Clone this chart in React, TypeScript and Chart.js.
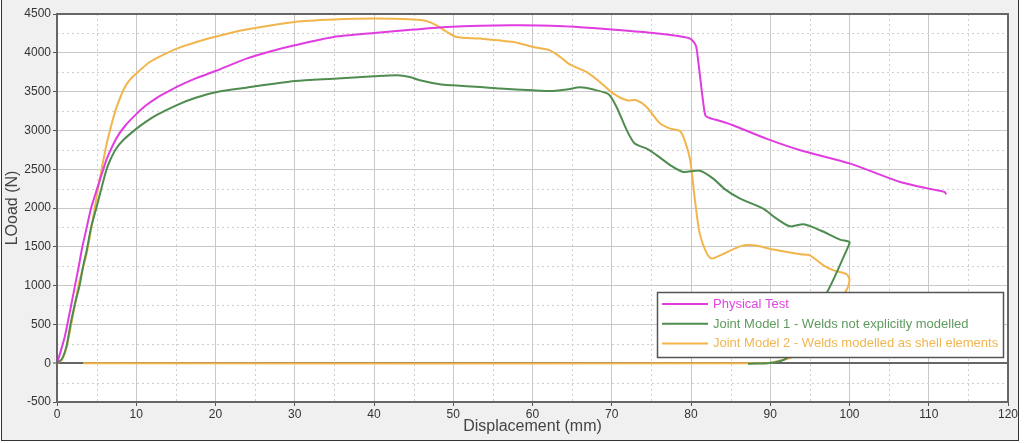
import React, { useEffect, useRef } from "react";
import { Chart, registerables } from "chart.js";

Chart.register(...registerables);

// ---- Data ----
const physicalDisp = [0, 0.4, 1.0, 1.6, 2.27, 2.75, 3.2, 3.75, 4.3, 4.6, 5.0, 5.85, 6.3, 7.5, 8.6, 10, 11.2, 12.6, 14, 15.3, 17.5, 20, 23.9, 27, 30, 34.9, 40, 45, 49.2, 53.4, 58.4, 63.9, 66, 70, 75.2, 78.6, 79.9, 80.6, 80.9, 81.4, 81.8, 82.2, 83.7, 85.3, 89.5, 93.8, 100.1, 106.4, 110.6, 112.0, 112.2];
const physicalLoad = [0, 130, 350, 650, 1000, 1250, 1500, 1750, 2000, 2100, 2230, 2500, 2640, 2900, 3060, 3210, 3320, 3420, 3500, 3570, 3670, 3765, 3925, 4020, 4097, 4204, 4255, 4299, 4333, 4350, 4354, 4342, 4330, 4299, 4255, 4213, 4183, 4097, 3903, 3474, 3195, 3165, 3121, 3066, 2894, 2744, 2572, 2335, 2237, 2206, 2175];

const model1Disp = [0, 0.6, 1.2, 1.7, 2.3, 2.85, 3.3, 3.75, 4.3, 5.0, 5.6, 6.2, 6.7, 7.5, 8.4, 10, 11.2, 12.6, 15.2, 17.5, 20.2, 23.9, 30, 34.9, 40, 42.9, 44.5, 45.8, 48.3, 50, 53.4, 55.9, 60, 62.6, 64.3, 66, 67.7, 69.6, 70.6, 71.9, 72.9, 74.4, 75.7, 77.4, 79, 81.1, 82.8, 84.3, 86.2, 89.1, 90.8, 92.5, 94.2, 96.3, 98.8, 100, 99.9, 97.3, 92.1, 90.5, 87.2];
const model1Load = [0, 50, 220, 500, 780, 1000, 1250, 1455, 1750, 2013, 2250, 2480, 2615, 2770, 2880, 3020, 3110, 3200, 3330, 3420, 3495, 3551, 3637, 3667, 3697, 3710, 3688, 3646, 3594, 3581, 3559, 3539, 3517, 3508, 3526, 3555, 3526, 3465, 3302, 3001, 2830, 2765, 2679, 2550, 2464, 2480, 2379, 2240, 2121, 1992, 1863, 1764, 1790, 1713, 1593, 1562, 1519, 939, 72, 10, -8];

const model2Disp = [0, 0.6, 1.2, 1.7, 2.2, 2.7, 3.2, 3.75, 4.4, 5.0, 5.4, 5.85, 6.25, 6.69, 7.1, 7.53, 8.37, 9.1, 10, 11.7, 13.3, 15.1, 17.6, 20.2, 23.9, 30, 34.9, 40, 45, 46.6, 47.9, 49.2, 50.4, 53.4, 57.6, 60.1, 62.2, 63.5, 64.7, 66.8, 68.5, 70.2, 71.9, 73.1, 74.4, 76.1, 77.4, 78.6, 79.2, 79.9, 80.5, 81.1, 82, 82.6, 83.7, 86.2, 87.9, 90.4, 93.8, 95, 96.7, 98, 99.65, 100, 99.6, 92.9, 91.5, 89.5, 3.3];
const model2Load = [0, 40, 200, 450, 720, 1000, 1200, 1420, 1780, 2142, 2380, 2615, 2820, 3001, 3160, 3302, 3517, 3640, 3732, 3881, 3970, 4054, 4139, 4213, 4299, 4397, 4428, 4441, 4428, 4410, 4354, 4268, 4204, 4183, 4139, 4075, 4032, 3946, 3850, 3753, 3624, 3474, 3388, 3388, 3302, 3088, 3023, 2992, 2872, 2615, 2099, 1670, 1412, 1348, 1390, 1506, 1519, 1464, 1403, 1390, 1261, 1197, 1146, 1068, 939, 89, 40, 0, 0];

const seriesLabels = [
  "Physical Test",
  "Joint Model 1 - Welds not explicitly modelled",
  "Joint Model 2 - Welds modelled as shell elements",
];
const seriesColors = ["#e03ce0", "#4f8c4f", "#f2b54c"];
const legendTextColors = ["#e045e0", "#5e9a5e", "#f0b650"];

const xTickValues = [0, 10, 20, 30, 40, 50, 60, 70, 80, 90, 100, 110, 120];
const yTickValues = [-500, 0, 500, 1000, 1500, 2000, 2500, 3000, 3500, 4000, 4500];

const xTitle = "Displacement (mm)";
const yTitle = "LOoad (N)";

const FONT = '"Liberation Sans", Arial, sans-serif';

function pairs(xs: number[], ys: number[]) {
  return xs.map((x, i) => ({ x, y: ys[i] }));
}

function midpoints(vals: number[]) {
  const out: number[] = [];
  for (let i = 0; i < vals.length - 1; i++) out.push((vals[i] + vals[i + 1]) / 2);
  return out;
}

const plotBgPlugin = {
  id: "plotBg",
  beforeDraw(chart: any) {
    const { ctx, chartArea } = chart;
    ctx.save();
    ctx.fillStyle = "#ffffff";
    ctx.fillRect(chartArea.left, chartArea.top, chartArea.right - chartArea.left, chartArea.bottom - chartArea.top);
    ctx.restore();
  },
};

const minorGridPlugin = {
  id: "minorGrid",
  beforeDatasetsDraw(chart: any) {
    const { ctx, chartArea, scales } = chart;
    ctx.save();
    ctx.strokeStyle = "#cfcfcf";
    ctx.lineWidth = 1;
    ctx.setLineDash([2, 3]);
    midpoints(xTickValues).forEach((v) => {
      const px = Math.round(scales.x.getPixelForValue(v)) + 0.5;
      ctx.beginPath();
      ctx.moveTo(px, chartArea.top);
      ctx.lineTo(px, chartArea.bottom);
      ctx.stroke();
    });
    midpoints(yTickValues).forEach((v) => {
      const py = Math.round(scales.y.getPixelForValue(v)) + 0.5;
      ctx.beginPath();
      ctx.moveTo(chartArea.left, py);
      ctx.lineTo(chartArea.right, py);
      ctx.stroke();
    });
    ctx.restore();
  },
};

const frameLegendPlugin = {
  id: "frameLegend",
  afterDraw(chart: any) {
    const { ctx, chartArea } = chart;
    ctx.save();
    // plot frame
    ctx.strokeStyle = "#666666";
    ctx.lineWidth = 2;
    ctx.strokeRect(chartArea.left, chartArea.top, chartArea.right - chartArea.left, chartArea.bottom - chartArea.top);
    // legend box
    const w = 346;
    const h = 65;
    const x0 = chartArea.right - 5 - w;
    const y0 = chartArea.top + 278;
    ctx.fillStyle = "#ffffff";
    ctx.fillRect(x0, y0, w, h);
    ctx.strokeStyle = "#555555";
    ctx.lineWidth = 1.5;
    ctx.strokeRect(x0 + 0.5, y0 + 0.5, w, h);
    chart.data.datasets.forEach((ds: any, i: number) => {
      const y = y0 + 12 + i * 19.7;
      ctx.strokeStyle = ds.borderColor;
      ctx.lineWidth = 2;
      ctx.beginPath();
      ctx.moveTo(x0 + 5, y);
      ctx.lineTo(x0 + 51, y);
      ctx.stroke();
      ctx.fillStyle = legendTextColors[i];
      ctx.font = `13px ${FONT}`;
      ctx.textBaseline = "middle";
      ctx.textAlign = "left";
      ctx.fillText(ds.label, x0 + 56, y + 0.5);
    });
    ctx.restore();
  },
};

export default function App() {
  const canvasRef = useRef<HTMLCanvasElement | null>(null);

  useEffect(() => {
    document.body.style.margin = "0";
    const canvas = canvasRef.current;
    if (!canvas) return;
    const datasets = [
      { label: seriesLabels[0], data: pairs(physicalDisp, physicalLoad), borderColor: seriesColors[0] },
      { label: seriesLabels[1], data: pairs(model1Disp, model1Load), borderColor: seriesColors[1] },
      { label: seriesLabels[2], data: pairs(model2Disp, model2Load), borderColor: seriesColors[2] },
    ].map((d) => ({
      ...d,
      showLine: true,
      fill: false,
      pointRadius: 0,
      pointHoverRadius: 0,
      borderWidth: 2,
      tension: 0.25,
      backgroundColor: d.borderColor,
    }));

    const chart = new Chart(canvas, {
      type: "scatter",
      data: { datasets },
      options: {
        animation: false,
        responsive: true,
        maintainAspectRatio: false,
        layout: { padding: { top: 14, right: 16, left: 0, bottom: 0 } },
        plugins: {
          legend: { display: false },
          tooltip: { enabled: false },
        },
        scales: {
          x: {
            type: "linear",
            min: xTickValues[0],
            max: xTickValues[xTickValues.length - 1],
            afterBuildTicks: (scale: any) => {
              scale.ticks = xTickValues.map((v) => ({ value: v }));
            },
            afterFit: (scale: any) => {
              scale.height = 41;
            },
            border: { display: false },
            grid: {
              color: "#c8c8c8",
              lineWidth: 1,
              drawTicks: true,
              tickLength: 4,
              tickColor: "#555555",
              tickWidth: 1,
            },
            ticks: {
              color: "#333333",
              font: { family: FONT, size: 12 },
              padding: 1,
              maxRotation: 0,
              callback: (v: any) => String(v),
            },
            title: {
              display: true,
              text: xTitle,
              color: "#444444",
              font: { family: FONT, size: 16 },
              padding: { top: 0, bottom: 7 },
            },
          },
          y: {
            type: "linear",
            min: yTickValues[0],
            max: yTickValues[yTickValues.length - 1],
            afterBuildTicks: (scale: any) => {
              scale.ticks = yTickValues.map((v) => ({ value: v }));
            },
            afterFit: (scale: any) => {
              scale.width = 57;
            },
            border: { display: false },
            grid: {
              color: (c: any) => (c.tick && c.tick.value === 0 ? "#666666" : "#c8c8c8"),
              lineWidth: (c: any) => (c.tick && c.tick.value === 0 ? 2 : 1),
              drawTicks: true,
              tickLength: 4,
              tickColor: "#555555",
              tickWidth: 1,
            },
            ticks: {
              color: "#333333",
              font: { family: FONT, size: 12 },
              padding: 2,
              callback: (v: any) => String(v),
            },
            title: {
              display: true,
              text: yTitle,
              color: "#444444",
              font: { family: FONT, size: 16 },
              padding: { top: 3, bottom: 0 },
            },
          },
        },
      },
      plugins: [plotBgPlugin, minorGridPlugin, frameLegendPlugin],
    } as any);

    return () => {
      chart.destroy();
    };
  }, []);

  return (
    <div style={{ position: "relative", width: 1024, height: 443, overflow: "hidden", background: "#ffffff" }}>
      <div
        style={{
          position: "absolute",
          left: 1,
          top: -2,
          width: 1018,
          height: 443,
          boxSizing: "border-box",
          border: "1px solid #333333",
          background: "#f0f0f0",
        }}
      />
      <div style={{ position: "absolute", left: 0, top: 0, width: 1024, height: 443 }}>
        <canvas ref={canvasRef} />
      </div>
    </div>
  );
}
